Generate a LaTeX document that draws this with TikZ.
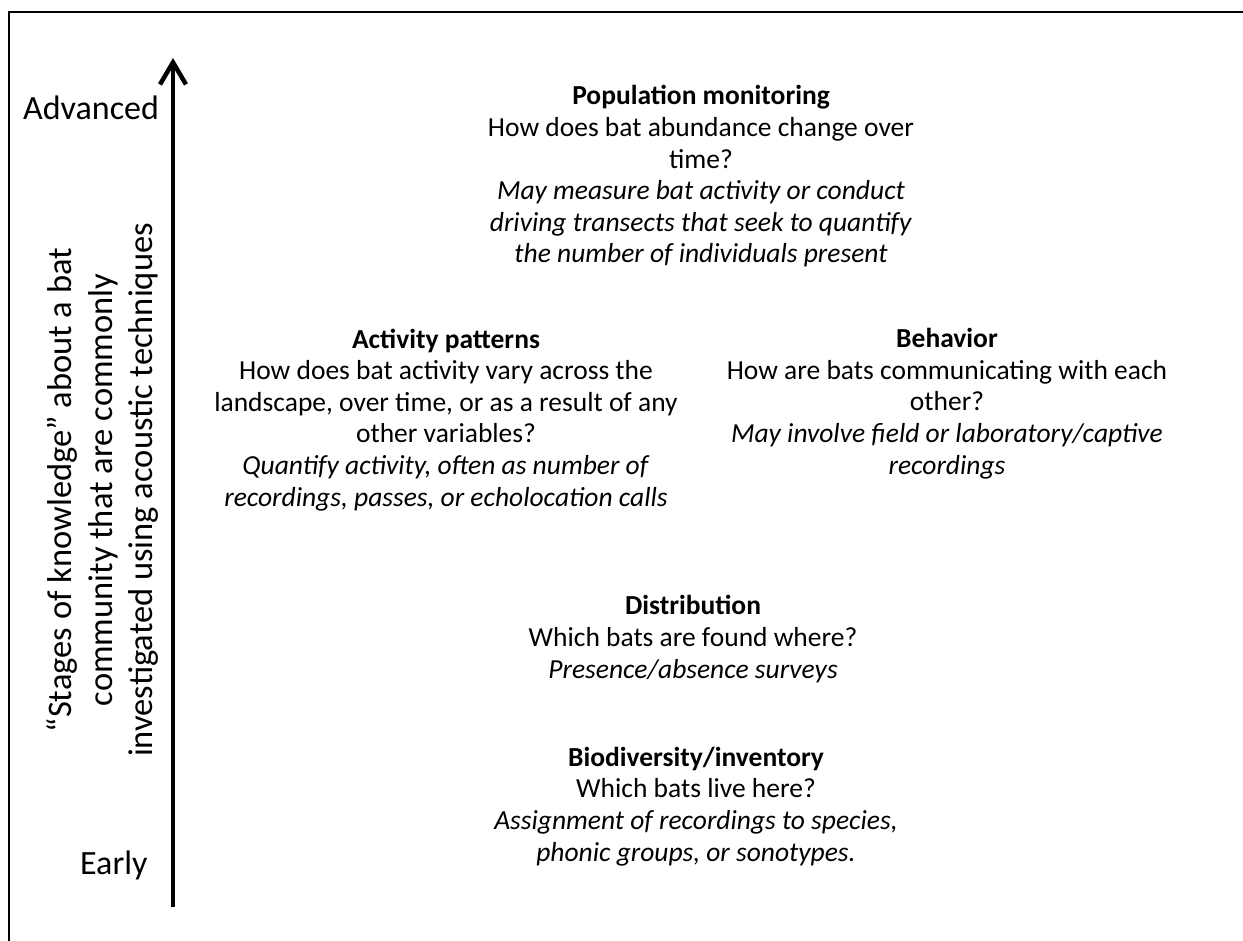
\documentclass[tikz,border=0pt]{standalone}
\usepackage{fontspec}
\setmainfont{Carlito}
\usepackage{tikz}
\usetikzlibrary{arrows.meta, positioning}

\begin{document}
\begin{tikzpicture}[x=1pt, y=-1pt,
  stage/.style={align=center, font=\fontsize{27.5}{31.6}\selectfont, inner sep=0pt, anchor=base},
  endlabel/.style={font=\fontsize{34}{40}\selectfont, inner sep=0pt, anchor=base west},
  axislabel/.style={rotate=90, align=center, font=\fontsize{34.5}{40.5}\selectfont, inner sep=0pt},
  axis/.style={-{Straight Barb[length=22pt, width=26pt]}, line width=4.5pt}
]
\useasboundingbox (0,0) rectangle (1243,941);
\draw[line width=2pt] (1243,12) -- (9,12) -- (9,941);

% knowledge axis
\coordinate (axisbot) at (173,907);
\coordinate (axistop) at (173,58);
\draw[axis] (axisbot) -- (axistop);
\node[endlabel] (adv) at (23,120) {Advanced};
\node[endlabel] (early) at (80,874) {Early};
\node[axislabel] (stages) at (103,490)
  {“Stages of knowledge” about a bat\\community that are commonly\\investigated using acoustic techniques};

% stages (base = last line)
\node[stage] (pop) at (701,263)
  {\textbf{Population monitoring}\\How does bat abundance change over\\time?\\
   \textit{May measure bat activity or conduct}\\\textit{driving transects that seek to quantify}\\\textit{the number of individuals present}};
\node[stage] (act) at (446,506)
  {\textbf{Activity patterns}\\How does bat activity vary across the\\landscape, over time, or as a result of any\\other variables?\\
   \textit{Quantify activity, often as number of}\\\textit{recordings, passes, or echolocation calls}};
\node[stage] (beh) at (947,474)
  {\textbf{Behavior}\\How are bats communicating with each\\other?\\
   \textit{May involve field or laboratory/captive}\\\textit{recordings}};
\node[stage] (dist) at (693,678)
  {\textbf{Distribution}\\Which bats are found where?\\\textit{Presence/absence surveys}};
\node[stage] (bio) at (696,861)
  {\textbf{Biodiversity/inventory}\\Which bats live here?\\
   \textit{Assignment of recordings to species,}\\\textit{phonic groups, or sonotypes.}};
\end{tikzpicture}
\end{document}
